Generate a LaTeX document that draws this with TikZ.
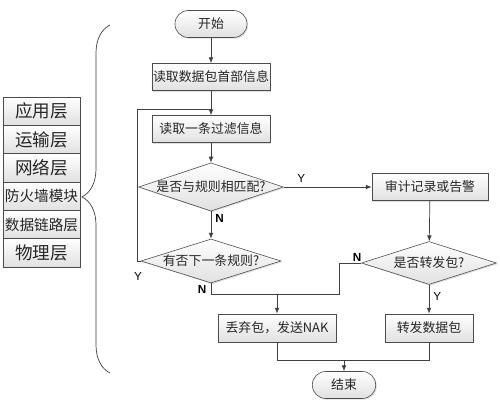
\documentclass[tikz,border=0pt]{standalone}
\usepackage{fontspec}
\usepackage{tikz}
\usetikzlibrary{arrows.meta,positioning,shapes.geometric,shadows,decorations.pathreplacing,calc}
\newfontfamily\cjk{Noto Sans CJK SC}
\newfontfamily\latinfont{Liberation Sans}

\begin{document}
\begin{tikzpicture}[x=0.03cm,y=-0.03cm,>={Latex[length=5pt,width=4pt]},
  every node/.style={font=\cjk\fontsize{11}{13}\selectfont,text=black!85},
  line/.style={draw=black!75,line width=0.6pt},
  boxed/.style={draw=black!70,line width=0.5pt,top color=white,bottom color=black!12,
    drop shadow={opacity=0.25,shadow xshift=1pt,shadow yshift=-1pt}},
  procbox/.style={boxed,rectangle,minimum width=3.54cm,minimum height=0.81cm,inner sep=1pt},
  decide/.style={boxed,diamond,aspect=3,inner sep=0pt,minimum width=4.2cm,minimum height=1.32cm},
  termbox/.style={boxed,rectangle,rounded corners=0.4cm,minimum height=0.81cm,inner sep=1pt},
  layer/.style={boxed,rectangle,minimum width=2.31cm,minimum height=0.85cm,inner sep=0pt},
  yn/.style={font=\latinfont\fontsize{10}{12}\selectfont,text=black}]
\useasboundingbox (0,0) rectangle (500,404);

% protocol stack
\foreach \i/\txt/\fsz in {0/应用层/15,1/运输层/15,2/网络层/15,3/防火墙模块/12.5,4/数据链路层/12.5,5/物理层/15}{
  \node[layer,font=\cjk\fontsize{\fsz}{\fsz}\selectfont] (layer\i) at (41.5,111.2+28.33*\i) {\txt};
}
\draw[line,decorate,decoration={brace,amplitude=0.84cm,aspect=0.506}] (110,373) -- (110,25);

% flow chart
\node[termbox,minimum width=2.16cm] (start) at (211,24) {开始};
\node[procbox] (readhead) at (211,77) {读取数据包首部信息};
\node[procbox] (readrule) at (211,129) {读取一条过滤信息};
\node[decide] (match) at (211,187) {是否与规则相匹配?};
\node[decide] (nextrule) at (211,261) {有否下一条规则?};
\node[procbox,minimum width=3.48cm] (audit) at (430,187) {审计记录或告警};
\node[decide,minimum width=4.05cm,minimum height=1.29cm] (fwdq) at (429,263) {是否转发包?};
\node[procbox,minimum width=3.54cm,minimum height=0.84cm] (drop) at (277,328) {丢弃包，发送NAK};
\node[procbox,minimum width=2.64cm,minimum height=0.84cm] (fwd) at (429,328) {转发数据包};
\node[termbox,minimum width=1.9cm] (stop) at (344,385) {结束};

\coordinate (loopin) at (211,109);
\coordinate (loopL) at (137,109);
\coordinate (mergeN) at (277,294);
\coordinate (mergeE) at (344,360);

\draw[line,->] (start) -- (readhead);
\draw[line,->] (readhead) -- (readrule);
\draw[line,->] (readrule) -- (match);
\draw[line,->] (match.east) -- node[yn,above,pos=0.2] {Y} (audit);
\draw[line,->] (match) -- node[yn,right,pos=0.25,font=\latinfont\bfseries\fontsize{10}{12}\selectfont] {N} (nextrule);
\draw[line] (nextrule.west) -| (loopL) -- (loopin);
\node[yn] (ylabel) at (138,276) {Y};
\draw[line] (nextrule.south) |- (mergeN);
\node[yn,font=\latinfont\bfseries\fontsize{10}{12}\selectfont] (nlabel) at (202,289) {N};
\draw[line,->] (audit) -- (fwdq);
\draw[line,->] (fwdq.west) -- ++(-22,0) |- (mergeN) -- (drop);
\node[yn,font=\latinfont\bfseries\fontsize{10}{12}\selectfont] (nlabel2) at (357,257) {N};
\draw[line,->] (fwdq.south) -- node[yn,right,pos=0.4] {Y} (fwd);
\draw[line] (drop.south) |- (mergeE);
\draw[line] (fwd.south) |- (mergeE);
\draw[line,->] (mergeE) -- (stop);
\end{tikzpicture}
\end{document}
